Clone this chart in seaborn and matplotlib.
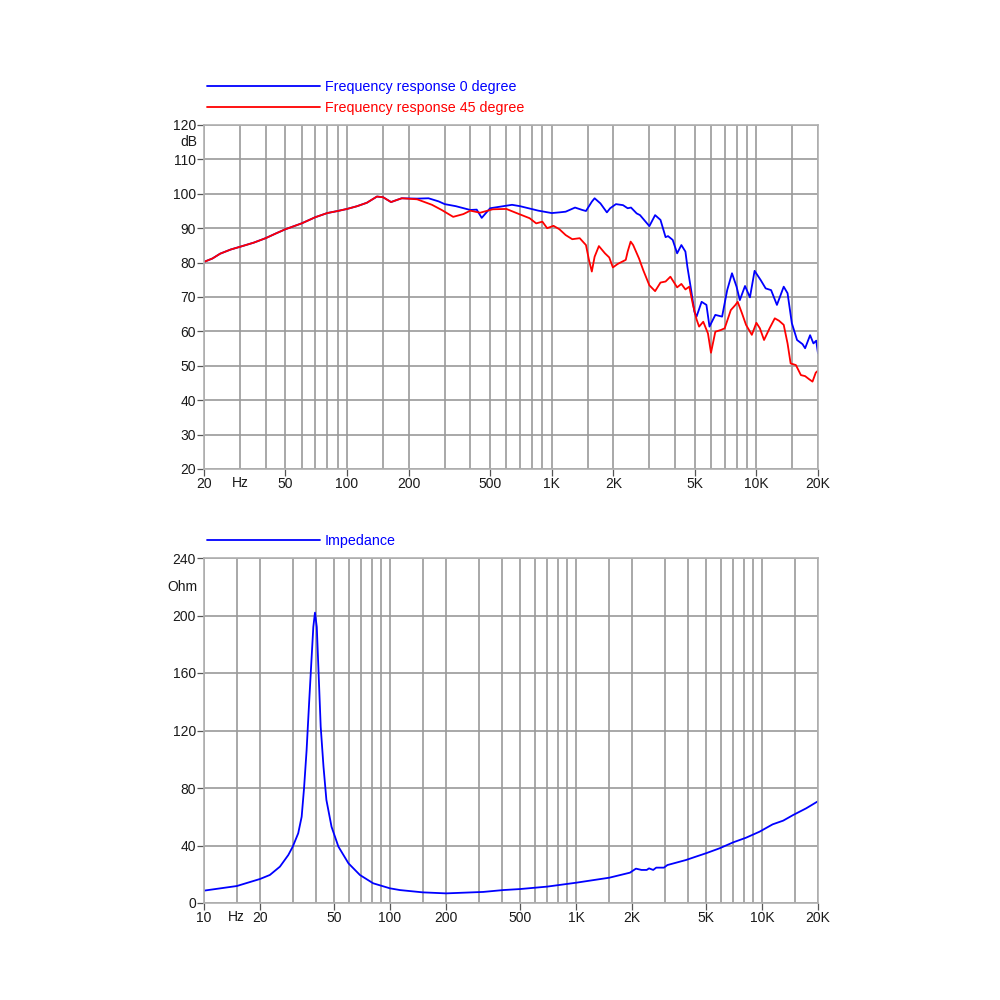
import numpy as np
import pandas as pd
import matplotlib
matplotlib.use("Agg")
import matplotlib.pyplot as plt
import matplotlib.transforms as mtrans
from matplotlib.lines import Line2D
import seaborn as sns

# --- DATA: frequency response (dB) ---
freq_0deg = [20, 22, 24, 27, 30, 35, 40, 45, 50, 60, 70, 80, 90, 100, 112, 125, 140, 150,
             164, 175, 185, 220, 250, 280, 300, 340, 400, 430, 455, 480, 500, 640, 700,
             860, 1000, 1090, 1170, 1300, 1410, 1470, 1570, 1620, 1730, 1860, 1930, 2060,
             2230, 2350, 2440, 2600, 2700, 3000, 3200, 3400, 3600, 3700, 3900, 4100, 4300,
             4500, 4600, 4800, 4980, 5100, 5400, 5700, 5900, 6300, 6800, 7200, 7600, 8000,
             8300, 8800, 9300, 9800, 10500, 11100, 11800, 12600, 13600, 14200, 14900,
             15800, 16800, 17300, 18300, 19000, 19600, 20000]
spl_0deg = [80.2, 81.2, 82.6, 83.8, 84.6, 85.8, 87.1, 88.5, 89.7, 91.4, 93.2, 94.4, 95.0,
            95.6, 96.4, 97.4, 99.2, 99.0, 97.6, 98.2, 98.7, 98.6, 98.7, 97.8, 97.0, 96.4,
            95.3, 95.4, 93.0, 94.6, 95.8, 96.8, 96.4, 95.1, 94.4, 94.6, 94.8, 96.0, 95.3,
            95.0, 97.7, 98.7, 97.2, 94.6, 95.8, 97.0, 96.7, 95.8, 96.0, 94.3, 93.8, 90.6,
            93.8, 92.4, 87.4, 87.7, 86.6, 82.7, 85.1, 83.2, 78.8, 72.0, 65.7, 64.3, 68.6,
            67.7, 61.4, 64.8, 64.3, 72.0, 76.9, 73.0, 69.1, 73.2, 69.9, 77.6, 74.9, 72.5,
            72.0, 67.7, 73.0, 71.1, 62.4, 57.5, 56.3, 55.1, 58.9, 56.5, 57.3, 53.6]

freq_45deg = [20, 22, 24, 27, 30, 35, 40, 45, 50, 60, 70, 80, 90, 100, 112, 125, 140, 150,
              164, 175, 185, 220, 260, 290, 330, 370, 400, 447, 515, 600, 680, 780, 840,
              900, 950, 1020, 1090, 1170, 1260, 1370, 1470, 1520, 1570, 1620, 1700, 1820,
              1910, 1990, 2100, 2300, 2350, 2430, 2500, 2670, 2800, 3000, 3200, 3400, 3600,
              3800, 4100, 4300, 4500, 4700, 4900, 5100, 5250, 5500, 5800, 6000, 6300, 6700,
              7000, 7500, 7900, 8100, 8500, 8900, 9500, 10000, 10400, 10900, 11600, 12300,
              12900, 13600, 14200, 14700, 15600, 16500, 17300, 18100, 18800, 19500, 20000]
spl_45deg = [80.2, 81.2, 82.6, 83.8, 84.6, 85.8, 87.1, 88.5, 89.7, 91.4, 93.2, 94.4, 95.0,
             95.6, 96.4, 97.4, 99.2, 99.0, 97.6, 98.2, 98.7, 98.4, 96.8, 95.3, 93.3, 94.1,
             95.1, 94.5, 95.5, 95.6, 94.3, 92.9, 91.4, 91.9, 90.0, 90.7, 89.7, 88.0, 86.8,
             87.1, 85.1, 80.8, 77.4, 81.7, 84.8, 82.7, 81.5, 78.6, 79.6, 80.8, 83.2, 86.1,
             85.1, 81.2, 77.8, 73.4, 71.7, 74.2, 74.5, 75.9, 72.8, 73.8, 72.2, 73.0, 67.7,
             63.5, 61.4, 62.8, 59.4, 53.8, 59.9, 60.4, 60.9, 66.2, 67.7, 68.6, 65.3, 61.9,
             59.0, 62.5, 60.9, 57.5, 60.9, 63.8, 63.1, 61.9, 56.5, 50.7, 50.2, 47.3, 47.0,
             46.1, 45.4, 48.0, 48.6]

# --- DATA: impedance (Ohm) ---
freq_imp = [10, 15, 20, 22.6, 25.6, 28.4, 30, 32.1, 33.5, 34.5, 35.6, 36.8, 37.9, 38.7,
            39.5, 40.4, 41.2, 42.4, 43.9, 45.5, 48.5, 52.8, 59.8, 68.9, 81.2, 100, 113, 150,
            200, 317, 406, 500, 700, 1000, 1510, 1950, 2100, 2250, 2400, 2470, 2600, 2700,
            2970, 3100, 3900, 4400, 5000, 5900, 7000, 8200, 9700, 11400, 13000, 14700,
            17300, 20000]
impedance = [8.6, 11.8, 16.7, 19.5, 25.3, 33.4, 39.2, 48.5, 60, 79.8, 106, 141, 171, 192,
             202, 192, 164, 122.7, 94.8, 71.7, 53, 39.2, 27.6, 19.5, 13.7, 10.2, 9.0, 7.4,
             6.7, 7.7, 9.0, 9.7, 11.4, 14.1, 17.6, 21.1, 23.9, 23, 23, 24.1, 23, 24.6, 24.6,
             26.4, 29.9, 32.2, 34.6, 38.0, 42.2, 45.4, 49.6, 54.7, 57.3, 61.2, 65.9, 70.8]

# --- AXIS TICKS ---
top_major = [20, 50, 100, 200, 500, 1000, 2000, 5000, 10000, 20000]
top_labels = ['20', '50', '100', '200', '500', '1K', '2K', '5K', '10K', '20K']
top_minor = [30, 40, 60, 70, 80, 90, 150, 300, 400, 600, 700, 800, 900, 1500, 3000,
             4000, 6000, 7000, 8000, 9000, 15000]
bot_major = [10, 20, 50, 100, 200, 500, 1000, 2000, 5000, 10000, 20000]
bot_labels = ['10', '20', '50', '100', '200', '500', '1K', '2K', '5K', '10K', '20K']
bot_minor = [15, 30, 40, 60, 70, 80, 90, 150, 300, 400, 600, 700, 800, 900, 1500, 3000,
             4000, 6000, 7000, 8000, 9000, 15000]
db_ticks = list(range(20, 121, 10))
ohm_ticks = list(range(0, 241, 40))

sns.set_style("white")
plt.rcParams['font.family'] = ['Liberation Sans', 'DejaVu Sans']
plt.rcParams['font.size'] = 10

GRID = '#9a9a9a'
TXT = '#1a1a1a'

fig = plt.figure(figsize=(10, 10), dpi=100)
ax1 = fig.add_axes([0.204, 0.531, 0.614, 0.344])
ax2 = fig.add_axes([0.204, 0.097, 0.614, 0.345])

df0 = pd.DataFrame({'f': freq_0deg, 'db': spl_0deg})
df45 = pd.DataFrame({'f': freq_45deg, 'db': spl_45deg})
dfz = pd.DataFrame({'f': freq_imp, 'ohm': impedance})

sns.lineplot(data=df0, x='f', y='db', ax=ax1, color='#0000ff', lw=1.3, estimator=None)
sns.lineplot(data=df45, x='f', y='db', ax=ax1, color='#ff0000', lw=1.3, estimator=None)
sns.lineplot(data=dfz, x='f', y='ohm', ax=ax2, color='#0000ff', lw=1.3, estimator=None)


def style_axis(ax, xmin, major, labels, minor, yticks, ylim, hz_at, unit, unit_at):
    ax.set_xscale('log')
    ax.set_xlim(xmin, 20000)
    ax.set_ylim(*ylim)
    ax.set_xticks(major)
    ax.set_xticklabels(labels)
    ax.set_xticks(minor, minor=True)
    ax.set_xticklabels([], minor=True)
    ax.set_yticks(yticks)
    ax.set_yticklabels([str(t) for t in yticks])
    ax.grid(True, which='both', axis='x', color=GRID, lw=1.2)
    ax.grid(True, which='major', axis='y', color=GRID, lw=1.2)
    ax.tick_params(axis='both', which='major', length=5, width=0.9, color='#555555',
                   labelcolor=TXT, labelsize=10, pad=0.8, direction='out',
                   bottom=True, left=True)
    ax.tick_params(axis='x', which='minor', length=0)
    ax.tick_params(axis='y', which='minor', length=0)
    for sp in ax.spines.values():
        sp.set_color('#b0b0b0')
        sp.set_linewidth(1.2)
    ax.set_xlabel('')
    ax.set_ylabel('')
    # unit labels sit among tick labels
    tx = mtrans.blended_transform_factory(ax.transData, ax.transAxes)
    ax.text(hz_at, -0.019, 'Hz', transform=tx, ha='center', va='top', color=TXT, fontsize=10)
    ty = mtrans.blended_transform_factory(ax.transAxes, ax.transData)
    ax.text(-0.011, unit_at, unit, transform=ty, ha='right', va='center', color=TXT, fontsize=10)


style_axis(ax1, 20, top_major, top_labels, top_minor, db_ticks, (20, 120), 30, 'dB', 115)
style_axis(ax2, 10, bot_major, bot_labels, bot_minor, ohm_ticks, (0, 240), 15, 'Ohm', 220)

h1 = [Line2D([], [], color='#0000ff', lw=1.3), Line2D([], [], color='#ff0000', lw=1.3)]
leg1 = ax1.legend(h1, ['Frequency response 0 degree', 'Frequency response 45 degree'],
                  loc='lower left', bbox_to_anchor=(0.005, 1.03), frameon=False,
                  handlelength=7.9, handletextpad=0.35, labelspacing=0.47,
                  borderpad=0, borderaxespad=0, fontsize=10.3, labelcolor='linecolor')
h2 = [Line2D([], [], color='#0000ff', lw=1.3)]
leg2 = ax2.legend(h2, ['Impedance'], loc='lower left', bbox_to_anchor=(0.005, 1.03),
                  frameon=False, handlelength=7.9, handletextpad=0.35,
                  borderpad=0, borderaxespad=0, fontsize=10.3, labelcolor='linecolor')

fig.savefig('out.png', dpi=100, facecolor='white')
